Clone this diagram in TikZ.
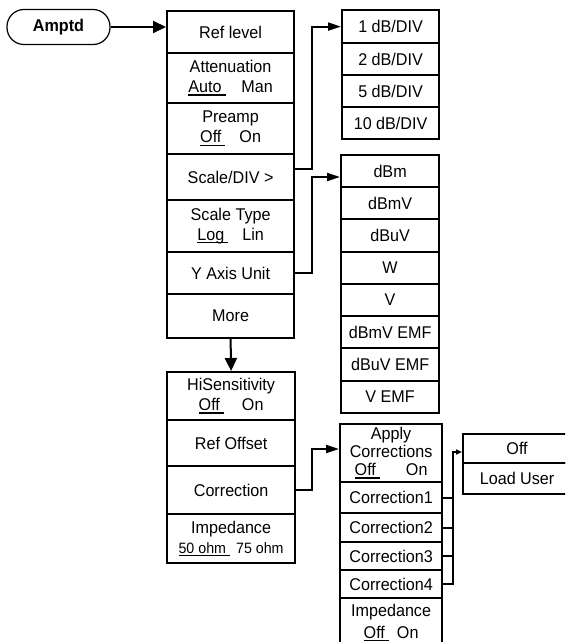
\documentclass[tikz,border=0pt]{standalone}
\usepackage{fontspec}
\setmainfont{Liberation Sans}[FakeStretch=0.95]
\usetikzlibrary{arrows.meta,calc}
\newcommand\myul[1]{\leavevmode\setbox0\hbox{#1\hspace{4pt}}\rlap{\rule[-3pt]{\wd0}{1.4pt}}#1}
\tikzset{
  cell/.style={draw, line width=2.2pt, anchor=north west, inner sep=0pt, align=center,
    font=\fontsize{17}{20}\selectfont},
  conn/.style={line width=2pt},
  bigtip/.style={-{Triangle[length=13pt,width=12pt]}},
  slimtip/.style={-{Triangle[length=13pt,width=8pt]}},
  smalltip/.style={-{Triangle[length=6pt,width=5pt]}},
}
\begin{document}
\begin{tikzpicture}[x=1pt,y=-1pt]
\useasboundingbox (0,0) rectangle (565,642);
\clip (0,0) rectangle (565,642);
% Amptd key
\node[draw, line width=1.2pt, rounded corners=17pt, minimum width=103pt, minimum height=35pt,
  inner sep=0pt, font=\fontsize{17}{20}\selectfont\bfseries] (amptd) at (58.5,27) {Amptd};
% first menu
\node[cell,minimum width=127pt,minimum height=42pt] (ref) at (166,10) {Ref level};
\node[cell,minimum width=127pt,minimum height=50pt] (att) at (166,52) {Attenuation\\\myul{Auto}\hspace{20pt}Man};
\node[cell,minimum width=127pt,minimum height=51pt] (pre) at (166,102) {Preamp\\\myul{Off}\hspace{18pt}On};
\node[cell,minimum width=127pt,minimum height=46pt] (scale) at (166,153) {Scale/DIV >};
\node[cell,minimum width=127pt,minimum height=52pt] (stype) at (166,199) {Scale Type\\\myul{Log}\hspace{18pt}Lin};
\node[cell,minimum width=127pt,minimum height=42pt] (yax) at (166,251) {Y Axis Unit};
\node[cell,minimum width=127pt,minimum height=44pt] (more) at (166,293) {More};
% scale/div submenu
\node[cell,minimum width=97pt,minimum height=33pt] (s1) at (341,9) {1 dB/DIV};
\node[cell,minimum width=97pt,minimum height=32pt] (s2) at (341,42) {2 dB/DIV};
\node[cell,minimum width=97pt,minimum height=32pt] (s5) at (341,74) {5 dB/DIV};
\node[cell,minimum width=97pt,minimum height=32pt] (s10) at (341,106) {10 dB/DIV};
% units submenu
\node[cell,minimum width=98pt,minimum height=32pt] (u1) at (340,154) {dBm};
\node[cell,minimum width=98pt,minimum height=32pt] (u2) at (340,186) {dBmV};
\node[cell,minimum width=98pt,minimum height=33pt] (u3) at (340,218) {dBuV};
\node[cell,minimum width=98pt,minimum height=32pt] (u4) at (340,251) {W};
\node[cell,minimum width=98pt,minimum height=32pt] (u5) at (340,283) {V};
\node[cell,minimum width=98pt,minimum height=32pt] (u6) at (340,315) {dBmV EMF};
\node[cell,minimum width=98pt,minimum height=33pt] (u7) at (340,347) {dBuV EMF};
\node[cell,minimum width=98pt,minimum height=32pt] (u8) at (340,380) {V EMF};
% second menu
\node[cell,minimum width=128pt,minimum height=48pt] (hi) at (166,371) {HiSensitivity\\\myul{Off}\hspace{22pt}On};
\node[cell,minimum width=128pt,minimum height=46pt] (roff) at (166,419) {Ref Offset};
\node[cell,minimum width=128pt,minimum height=48pt] (corr) at (166,465) {Correction};
\node[cell,minimum width=128pt,minimum height=49pt] (imp) at (166,513) {Impedance\\\fontsize{15}{17}\selectfont\myul{50 ohm}\hspace{10pt}75 ohm};
% corrections submenu
\node[cell,minimum width=102pt,minimum height=58pt,font=\fontsize{17}{18}\selectfont] (apply) at (339,423) {Apply\\Corrections\\\myul{Off}\hspace{30pt}On};
\node[cell,minimum width=102pt,minimum height=31pt] (c1) at (339,481) {Correction1};
\node[cell,minimum width=102pt,minimum height=29pt] (c2) at (339,512) {Correction2};
\node[cell,minimum width=102pt,minimum height=28pt] (c3) at (339,541) {Correction3};
\node[cell,minimum width=102pt,minimum height=28pt] (c4) at (339,569) {Correction4};
\node[cell,minimum width=102pt,minimum height=49pt,font=\fontsize{17}{22}\selectfont] (imp2) at (339,597) {Impedance\\\myul{Off}\hspace{12pt}On};
% off / load user
\node[cell,minimum width=108pt,minimum height=29pt] (off) at (462,433) {Off};
\node[cell,minimum width=108pt,minimum height=31pt] (load) at (462,462) {Load User};
% connectors
\draw[conn,bigtip] (amptd.east) -- (amptd.east -| ref.west);
\coordinate (sb) at (312,169);
\draw[conn,slimtip] (sb -| scale.east) -- (sb) |- (s1.west);
\coordinate (yb) at (312,177);
\draw[conn,slimtip] (yax.east) -| (yb) -- (yb -| u1.west);
\draw[conn,bigtip] (more.south) -- (hi.north);
\coordinate (cb) at (312,449);
\draw[conn,slimtip] (corr.east) -| (cb) -- (cb -| apply.west);
\coordinate (vb) at (453,452);
\draw[conn] (c1.east) -- (c1.east -| vb);
\draw[conn] (c2.east) -- (c2.east -| vb);
\draw[conn] (c3.east) -- (c3.east -| vb);
\draw[conn,smalltip] (c4.east) -| (vb) -- (vb -| off.west);
\end{tikzpicture}
\end{document}
